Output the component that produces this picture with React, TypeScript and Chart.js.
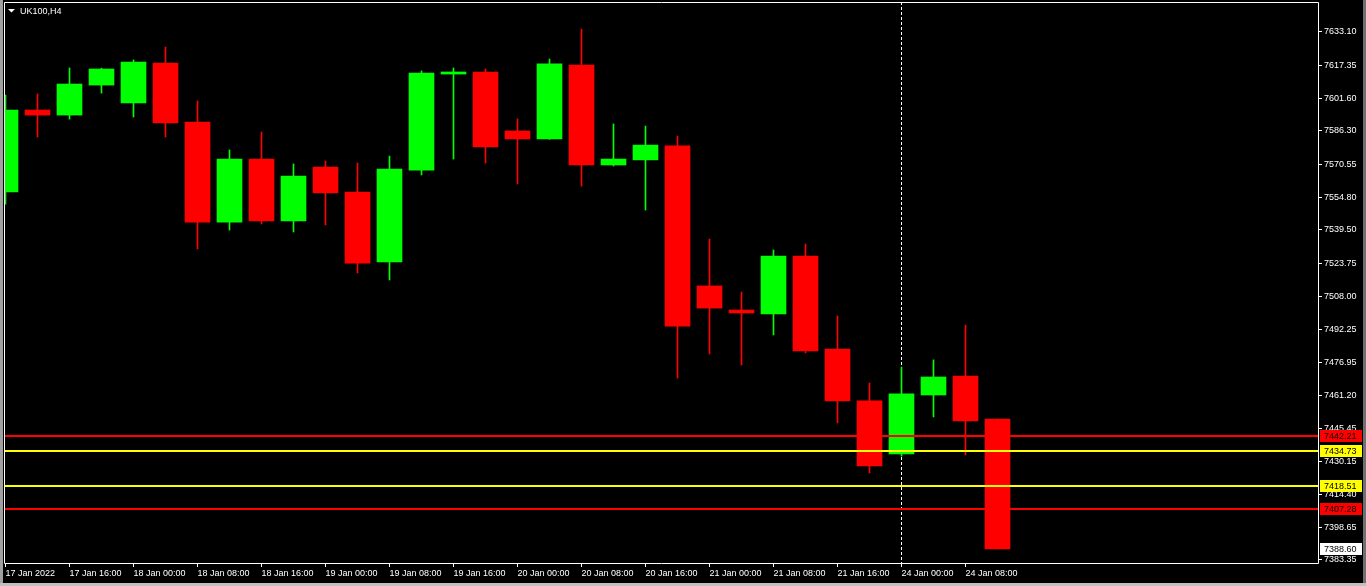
import React, { useEffect, useRef } from "react";
import { Chart, registerables } from "chart.js";

Chart.register(...registerables);

const symbolTitle = "UK100,H4";

const timeLabels = [
  "17 Jan 2022", "17 Jan 12:00", "17 Jan 16:00", "17 Jan 20:00",
  "18 Jan 00:00", "18 Jan 04:00", "18 Jan 08:00", "18 Jan 12:00", "18 Jan 16:00", "18 Jan 20:00",
  "19 Jan 00:00", "19 Jan 04:00", "19 Jan 08:00", "19 Jan 12:00", "19 Jan 16:00", "19 Jan 20:00",
  "20 Jan 00:00", "20 Jan 04:00", "20 Jan 08:00", "20 Jan 12:00", "20 Jan 16:00", "20 Jan 20:00",
  "21 Jan 00:00", "21 Jan 04:00", "21 Jan 08:00", "21 Jan 12:00", "21 Jan 16:00", "21 Jan 20:00",
  "24 Jan 00:00", "24 Jan 04:00", "24 Jan 08:00", "24 Jan 12:00",
];

const opens = [
  7557.4, 7596.2, 7593.8, 7608.0, 7599.5, 7618.4, 7590.5, 7543.2, 7573.0, 7543.7,
  7569.2, 7557.4, 7524.3, 7567.8, 7613.2, 7614.2, 7586.3, 7582.5, 7617.5, 7570.2,
  7572.6, 7579.2, 7513.0, 7501.6, 7499.7, 7527.1, 7483.1, 7458.6, 7433.5, 7461.4,
  7470.4, 7450.0,
];
const highs = [
  7603.3, 7603.8, 7616.1, 7616.0, 7619.9, 7626.0, 7600.5, 7577.3, 7585.8, 7570.7,
  7572.1, 7571.1, 7574.4, 7614.7, 7616.1, 7615.6, 7592.0, 7620.3, 7634.5, 7589.6,
  7588.6, 7583.9, 7535.2, 7510.1, 7530.0, 7532.8, 7498.8, 7467.1, 7474.6, 7478.0,
  7494.5, 7450.0,
];
const lows = [
  7551.7, 7583.4, 7591.9, 7604.2, 7592.9, 7583.4, 7530.5, 7539.4, 7542.3, 7538.5,
  7541.8, 7519.1, 7515.8, 7565.5, 7573.0, 7571.1, 7561.2, 7582.3, 7560.2, 7569.7,
  7548.9, 7469.4, 7480.8, 7475.6, 7489.8, 7481.3, 7448.2, 7424.5, 7432.5, 7451.0,
  7433.0, 7388.6,
];
const closes = [
  7596.2, 7593.8, 7608.5, 7615.6, 7618.9, 7590.1, 7543.2, 7573.0, 7543.7, 7565.0,
  7557.0, 7523.8, 7568.3, 7613.7, 7614.2, 7578.7, 7582.5, 7618.0, 7570.2, 7573.0,
  7579.6, 7494.0, 7502.5, 7500.2, 7527.1, 7482.2, 7458.6, 7427.8, 7461.9, 7469.9,
  7449.1, 7388.6,
];

const yTickValues = [
  7633.10, 7617.35, 7601.60, 7586.30, 7570.55, 7554.80, 7539.50, 7523.75, 7508.00,
  7492.25, 7476.95, 7461.20, 7445.45, 7430.15, 7414.40, 7398.65, 7383.35,
];
const xTickIndices = [0, 2, 4, 6, 8, 10, 12, 14, 16, 18, 20, 22, 24, 26, 28, 30];

const levelValues = [7442.21, 7434.73, 7418.51, 7407.28];
const levelColors = ["#ff0000", "#ffff00", "#ffff00", "#ff0000"];
const crosshairIndex = 28;

const Y_MIN = 7381.93;
const Y_MAX = 7647.29;
const X_MIN = -0.015625;
const X_MAX = 41.015625;

const UP = "#00ff00";
const DOWN = "#ff0000";
const FONT = "'Liberation Sans', Arial, sans-serif";
const FONT_SIZE = 9;

const mtPlugin = {
  id: "mt4look",
  beforeDraw(chart: any) {
    const ctx = chart.ctx;
    ctx.save();
    ctx.fillStyle = "#000000";
    ctx.fillRect(0, 0, chart.width, chart.height);
    ctx.restore();
  },
  beforeDatasetsDraw(chart: any) {
    const { ctx, chartArea: a, scales } = chart;
    const x = Math.floor(scales.x.getPixelForValue(crosshairIndex)) + 0.5;
    ctx.save();
    ctx.strokeStyle = "#ffffff";
    ctx.lineWidth = 1;
    ctx.setLineDash([3, 2]);
    ctx.beginPath();
    ctx.moveTo(x, a.top);
    ctx.lineTo(x, a.bottom);
    ctx.stroke();
    ctx.restore();
  },
  afterDatasetsDraw(chart: any) {
    const { ctx, chartArea: a, scales } = chart;
    ctx.save();
    levelValues.forEach((v, i) => {
      const y = Math.round(scales.y.getPixelForValue(v));
      ctx.fillStyle = levelColors[i];
      ctx.fillRect(a.left, y - 1, a.right - a.left, 2);
    });
    ctx.restore();
  },
  afterDraw(chart: any) {
    const { ctx, chartArea: a, scales } = chart;
    ctx.save();
    // frame
    ctx.strokeStyle = "#ffffff";
    ctx.lineWidth = 1;
    ctx.beginPath();
    ctx.moveTo(a.left - 0.5, a.top + 0.5);
    ctx.lineTo(a.right + 0.5, a.top + 0.5);
    ctx.lineTo(a.right + 0.5, a.bottom + 0.5);
    ctx.lineTo(a.left - 0.5, a.bottom + 0.5);
    ctx.closePath();
    ctx.stroke();

    // title
    ctx.fillStyle = "#ffffff";
    ctx.beginPath();
    ctx.moveTo(8, 9);
    ctx.lineTo(15, 9);
    ctx.lineTo(11.5, 12.5);
    ctx.closePath();
    ctx.fill();
    ctx.font = `${FONT_SIZE}px ${FONT}`;
    ctx.textBaseline = "alphabetic";
    ctx.textAlign = "left";
    ctx.fillText(symbolTitle, 20, 14);

    // price boxes
    const boxes: { v: number; bg: string }[] = levelValues.map((v, i) => ({ v, bg: levelColors[i] }));
    boxes.push({ v: closes[closes.length - 1], bg: "#ffffff" });
    ctx.textBaseline = "middle";
    boxes.forEach((b) => {
      const y = Math.round(scales.y.getPixelForValue(b.v));
      ctx.fillStyle = b.bg;
      ctx.fillRect(a.right + 2, y - 6, 42, 12);
      ctx.fillStyle = "#000000";
      ctx.fillText(b.v.toFixed(2), a.right + 6, y + 0.5);
    });

    // window edges
    ctx.fillStyle = "#a0a0a0";
    ctx.fillRect(0, 0, 3, chart.height);
    ctx.fillStyle = "#707070";
    ctx.fillRect(chart.width - 3, 0, 3, chart.height);
    ctx.fillStyle = "#c0c0c0";
    ctx.fillRect(0, chart.height - 3, chart.width, 3);
    ctx.restore();
  },
};

export default function App() {
  const ref = useRef<HTMLCanvasElement>(null);

  useEffect(() => {
    document.body.style.margin = "0";
    document.body.style.background = "#000";
    const canvas = ref.current;
    if (!canvas) return;
    const colors = opens.map((o, i) => (closes[i] >= o ? UP : DOWN));
    const bodyData = opens.map((o, i) => ({ x: i, y: [o, closes[i]] }));
    const wickData = lows.map((l, i) => ({ x: i, y: [l, highs[i]] }));

    const chart = new Chart(canvas, {
      type: "bar",
      data: {
        datasets: [
          {
            data: bodyData as any,
            backgroundColor: colors,
            barThickness: 25,
            grouped: false,
            borderWidth: 0,
            minBarLength: 1,
          } as any,
          {
            data: wickData as any,
            backgroundColor: colors,
            barThickness: 1,
            grouped: false,
            borderWidth: 0,
          } as any,
        ],
      },
      options: {
        animation: false,
        responsive: false,
        devicePixelRatio: 1,
        events: [],
        layout: { padding: { left: 5, top: 2, right: 0, bottom: 0 } },
        plugins: {
          legend: { display: false },
          tooltip: { enabled: false },
          title: { display: false },
        },
        scales: {
          x: {
            type: "linear",
            position: "bottom",
            min: X_MIN,
            max: X_MAX,
            offset: false,
            grid: {
              display: true,
              offset: false,
              drawOnChartArea: false,
              drawTicks: true,
              tickLength: 4,
              color: "#ffffff",
            },
            border: { display: false },
            ticks: {
              autoSkip: false,
              maxRotation: 0,
              minRotation: 0,
              align: "start",
              padding: 1,
              color: "#ffffff",
              font: { family: FONT, size: FONT_SIZE },
              callback: (v: any) => timeLabels[Number(v)] ?? "",
            },
            afterBuildTicks: (s: any) => {
              s.ticks = xTickIndices.map((v) => ({ value: v }));
            },
            afterFit: (s: any) => {
              s.height = 23;
              s.paddingLeft = 0;
              s.paddingRight = 0;
              s.paddingTop = 0;
              s.paddingBottom = 0;
            },
          } as any,
          y: {
            type: "linear",
            position: "right",
            min: Y_MIN,
            max: Y_MAX,
            grid: {
              display: true,
              drawOnChartArea: false,
              drawTicks: true,
              tickLength: 4,
              color: "#ffffff",
            },
            border: { display: false },
            ticks: {
              padding: 2,
              color: "#ffffff",
              font: { family: FONT, size: FONT_SIZE },
              callback: (v: any) => Number(v).toFixed(2),
            },
            afterBuildTicks: (s: any) => {
              s.ticks = yTickValues.map((v) => ({ value: v }));
            },
            afterFit: (s: any) => {
              s.width = 48;
              s.paddingLeft = 0;
              s.paddingRight = 0;
              s.paddingTop = 0;
              s.paddingBottom = 0;
            },
          } as any,
        },
      },
      plugins: [mtPlugin],
    });
    return () => chart.destroy();
  }, []);

  return (
    <canvas
      ref={ref}
      width={1366}
      height={586}
      style={{ display: "block", width: 1366, height: 586 }}
    />
  );
}
